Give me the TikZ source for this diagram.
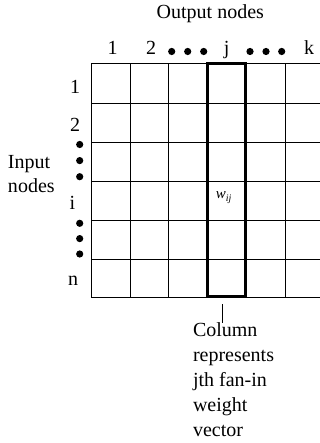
\documentclass[tikz,border=0pt]{standalone}
\usepackage{fontspec}
\setmainfont{Liberation Serif}
\begin{document}
\begin{tikzpicture}[x=1pt, y=-1pt,
  lbl/.style={font=\fontsize{20}{24}\selectfont, inner sep=0pt, outer sep=0pt},
  note/.style={font=\fontsize{20}{24.8}\selectfont, inner sep=0pt, outer sep=0pt, align=left},
  bigdot/.style={circle, fill=black, inner sep=0pt, outer sep=0pt, minimum size=7.2pt},
  gridline/.style={line width=0.9pt},
  column/.style={draw, line width=3pt, rectangle, inner sep=0pt, outer sep=0pt,
                 minimum width=37.7pt, minimum height=233pt},
  leader/.style={line width=0.6pt}]
\useasboundingbox (0,0) rectangle (320,443);

% weight matrix grid
\foreach \yy in {63.3,103.3,142.3,181,220,259,297.3}
  \draw[gridline] (91,\yy) -- (320,\yy);
\foreach \xx in {91,130,168.3,285.7}
  \draw[gridline] (\xx,63.3) -- (\xx,297.3);

% highlighted j-th column
\node[column] (col) at (226.65,179.8) {};
\node[anchor=base west, inner sep=0pt] (wij) at (215.7,198.3)
  {\fontsize{15}{15}\selectfont\itshape w\raisebox{-3pt}{\fontsize{10}{10}\selectfont ij}};

% header
\node[lbl, anchor=base] (outnodes) at (210.3,18.3) {Output nodes};

% column indices
\node[lbl, anchor=base] (c1) at (112.5,54.3) {1};
\node[lbl, anchor=base] (c2) at (151,54.3) {2};
\node[lbl, anchor=base] (cj) at (226.7,54.3) {j};
\node[lbl, anchor=base] (ck) at (309,54.3) {k};
\node[bigdot] (cd1) at (171.7,51.5) {};
\node[bigdot] (cd2) at (187.7,51.5) {};
\node[bigdot] (cd3) at (203.7,51.5) {};
\node[bigdot] (cd4) at (250,51.5) {};
\node[bigdot] (cd5) at (266,51.5) {};
\node[bigdot] (cd6) at (281.7,51.5) {};

% row indices
\node[lbl, anchor=base] (r1) at (75,94) {1};
\node[lbl, anchor=base] (r2) at (75,131.7) {2};
\node[lbl, anchor=base] (ri) at (72.5,210) {i};
\node[lbl, anchor=base] (rn) at (73,285) {n};
\node[bigdot] (rd1) at (79.7,144.5) {};
\node[bigdot] (rd2) at (79.7,160.6) {};
\node[bigdot] (rd3) at (79.7,176.7) {};
\node[bigdot] (rd4) at (79.7,223.3) {};
\node[bigdot] (rd5) at (79.7,238.6) {};
\node[bigdot] (rd6) at (79.7,254) {};

% side label
\node[lbl, align=left, anchor=north west] (innodes) at (8,155) {Input\\nodes};

% column annotation
\node[note, anchor=north west] (colnote) at (193,323) {Column\\represents\\jth fan-in\\weight\\vector};
\coordinate (lead) at (222.5,304);
\draw[leader] (lead) -- (colnote.north -| lead);
\end{tikzpicture}
\end{document}
